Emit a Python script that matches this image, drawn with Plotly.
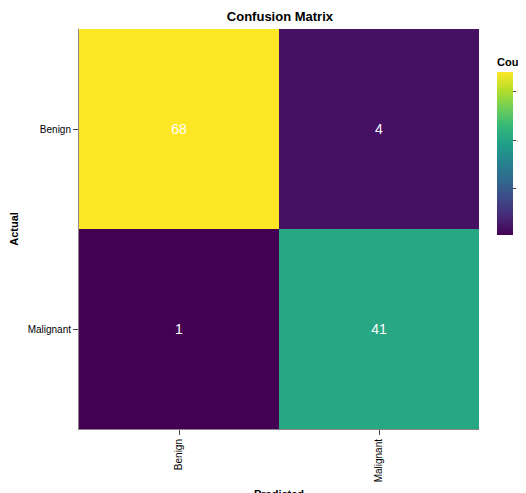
import plotly.graph_objects as go

predicted = ["Benign", "Malignant"]
actual = ["Benign", "Malignant"]
counts = [[68, 4], [1, 41]]

fig = go.Figure(go.Heatmap(
    x=predicted, y=actual, z=counts, colorscale="Viridis",
    zmin=1, zmax=68,
    text=[[str(v) for v in r] for r in counts], texttemplate="%{text}",
    textfont=dict(color="white", size=14),
    colorbar=dict(title=dict(text="<b>Count</b>", side="top", font=dict(size=11)),
                  thickness=16, len=200, lenmode="pixels", y=0.96, yanchor="top",
                  yref="paper", x=1, xref="paper", xpad=18, xanchor="left",
                  tickvals=[20, 40, 60], tickfont=dict(size=10), outlinewidth=0,
                  ticks="outside", ticklen=3),
))
fig.update_layout(
    width=526, height=493, margin=dict(l=71, r=55, t=21, b=72, autoexpand=False),
    plot_bgcolor="white", paper_bgcolor="white",
    font=dict(family="Liberation Sans, Arial", size=10, color="black"),
    title=dict(text="<b>Confusion Matrix</b>", x=0.517, xanchor="center", y=0.993, yanchor="top", font=dict(size=13)),
)
fig.update_xaxes(title=dict(text="<b>Predicted</b>", font=dict(size=11), standoff=8), tickangle=-90,
                 ticks="outside", ticklen=5, showline=True, linecolor="#888", showgrid=False, automargin=False)
fig.update_yaxes(title=dict(text="<b>Actual</b>", font=dict(size=11), standoff=6), autorange="reversed",
                 ticks="outside", ticklen=5, showline=True, linecolor="#888", showgrid=False, automargin=False)
fig.write_html("out.html")
